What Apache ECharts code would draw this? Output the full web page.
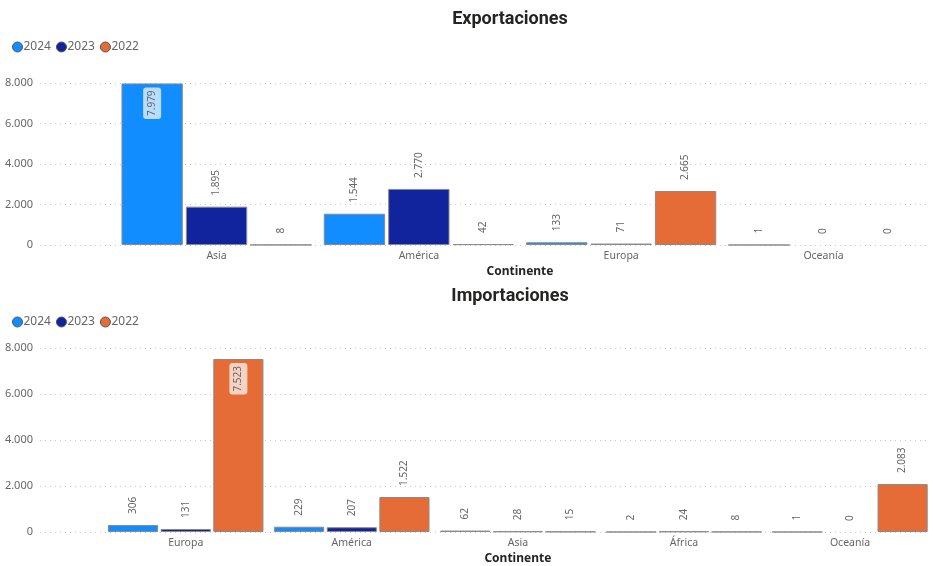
<!DOCTYPE html>
<html>
<head>
<meta charset="utf-8">
<script src="https://cdn.jsdelivr.net/npm/echarts@6/dist/echarts.min.js"></script>
<style>html,body{margin:0;padding:0;background:#fff}#c{width:933px;height:566px}</style>
</head>
<body>
<div id="c"></div>
<script>
// ---- data ----
const seriesNames = ['2024', '2023', '2022'];
const expCategories = ['Asia', 'América', 'Europa', 'Oceanía'];
const exp2024 = [7979, 1544, 133, 1];
const exp2023 = [1895, 2770, 71, 0];
const exp2022 = [8, 42, 2665, 0];
const impCategories = ['Europa', 'América', 'Asia', 'África', 'Oceanía'];
const imp2024 = [306, 229, 62, 2, 1];
const imp2023 = [131, 207, 28, 24, 0];
const imp2022 = [7523, 1522, 15, 8, 2083];
const yTicks = [0, 2000, 4000, 6000, 8000];

// ---- styles ----
const colors = ['#118DFF', '#12239E', '#E66C37'];
const FONT = '"Noto Sans", "Open Sans", sans-serif';
const gray = '#666666';
const yMax = yTicks[yTicks.length - 1];
const yInt = yTicks[1] - yTicks[0];
function fmt(v) { return String(v).replace(/\B(?=(\d{3})+(?!\d))/g, '.'); }

const insideLabel = {
  position: 'insideTop', rotate: 90, align: 'right', verticalAlign: 'middle',
  distance: 4, backgroundColor: 'rgba(255,255,255,0.7)', borderRadius: 3,
  padding: [4, 3, 4, 3]
};
function mkData(arr) {
  return arr.map(v => {
    const d = { value: v };
    if (v > yMax * 0.85) d.label = insideLabel;
    if (v === 0) d.itemStyle = { borderWidth: 0 };
    return d;
  });
}
function mkSeries(name, arr, idx, axisIdx, catGap) {
  return {
    name: name, type: 'bar', xAxisIndex: axisIdx, yAxisIndex: axisIdx,
    data: mkData(arr), barGap: '5%', barCategoryGap: catGap,
    itemStyle: { color: colors[idx], borderColor: '#8a8a8a', borderWidth: 1 },
    label: {
      show: true, position: 'top', rotate: 90, align: 'left', verticalAlign: 'middle',
      distance: 11, color: gray, fontSize: 10, fontFamily: FONT,
      formatter: p => fmt(p.value)
    }
  };
}
function valueAxis(gi, show) {
  return {
    type: 'value', gridIndex: gi, min: 0, max: yMax, interval: yInt, show: show,
    axisLine: { show: false }, axisTick: { show: false },
    axisLabel: { color: gray, fontSize: 11, fontFamily: FONT, margin: 7, formatter: v => fmt(v) },
    splitLine: { show: show, lineStyle: { type: [1, 4], color: '#c8c8c8', width: 1 } }
  };
}
function catAxis(gi, cats) {
  return {
    type: 'category', gridIndex: gi, data: cats,
    axisLine: { show: false }, axisTick: { show: false },
    axisLabel: { color: gray, fontSize: 10.5, fontFamily: FONT, margin: 6 },
    name: 'Continente', nameLocation: 'middle', nameGap: 21,
    nameTextStyle: { color: '#252423', fontSize: 12, fontWeight: 'bold', fontFamily: FONT }
  };
}
function hiddenX(gi) { return { type: 'value', gridIndex: gi, show: false, min: 0, max: 1 }; }
function legend(top) {
  return {
    left: 7, top: top, data: seriesNames, icon: 'circle', itemWidth: 10, itemHeight: 10,
    itemGap: 5, itemStyle: { borderColor: '#555', borderWidth: 1 },
    textStyle: { color: gray, fontSize: 12, fontFamily: FONT, padding: [0, 0, 0, -4] }
  };
}

const option = {
  animation: false,
  title: [
    { text: 'Exportaciones', left: 505, textAlign: 'center', top: 5,
      textStyle: { fontFamily: 'Roboto, sans-serif', fontWeight: 'bold', fontSize: 18, color: '#252423' } },
    { text: 'Importaciones', left: 505, textAlign: 'center', top: 282,
      textStyle: { fontFamily: 'Roboto, sans-serif', fontWeight: 'bold', fontSize: 18, color: '#252423' } }
  ],
  legend: [legend(36), legend(311)],
  grid: [
    { left: 40, right: 3, top: 83, height: 162 },
    { left: 115.4, width: 809.2, top: 83, height: 162 },
    { left: 40, right: 3, top: 348, height: 184 },
    { left: 102.7, width: 833.3, top: 348, height: 184 }
  ],
  xAxis: [hiddenX(0), catAxis(1, expCategories), hiddenX(2), catAxis(3, impCategories)],
  yAxis: [valueAxis(0, true), valueAxis(1, false), valueAxis(2, true), valueAxis(3, false)],
  series: [
    mkSeries(seriesNames[0], exp2024, 0, 1, '6%'),
    mkSeries(seriesNames[1], exp2023, 1, 1, '6%'),
    mkSeries(seriesNames[2], exp2022, 2, 1, '6%'),
    mkSeries(seriesNames[0], imp2024, 0, 3, '6.4%'),
    mkSeries(seriesNames[1], imp2023, 1, 3, '6.4%'),
    mkSeries(seriesNames[2], imp2022, 2, 3, '6.4%')
  ]
};
const chart = echarts.init(document.getElementById('c'), null, { renderer: 'canvas' });
chart.setOption(option);
</script>
</body>
</html>
